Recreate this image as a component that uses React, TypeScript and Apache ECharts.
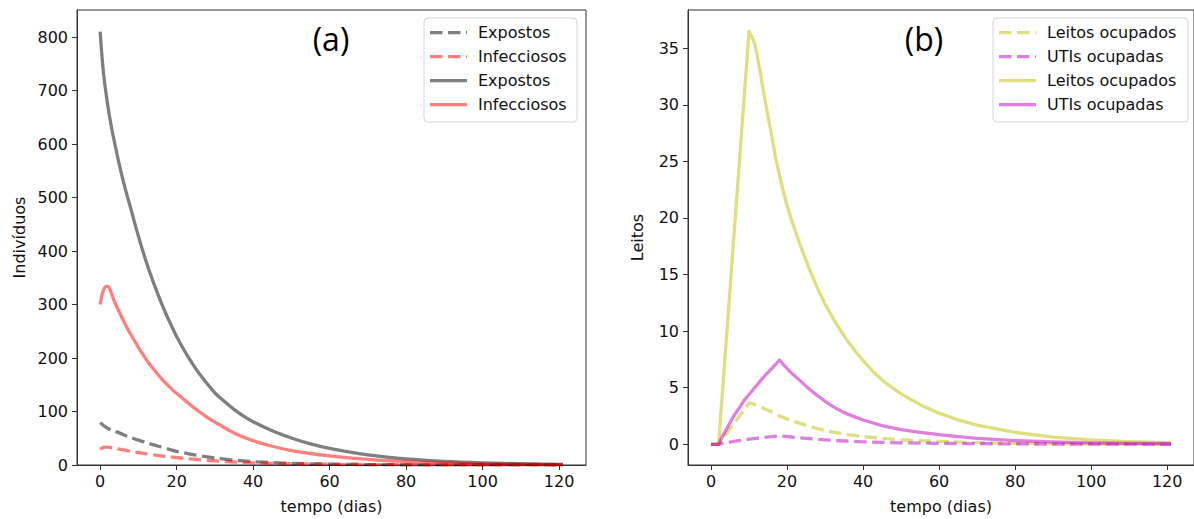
import React, { useEffect, useRef } from "react";
import * as echarts from "echarts";

// ---------- Panel (a): individuals ----------
const expSolidT = [0, 0.5, 1, 1.5, 2, 3, 4, 5, 6, 7, 8, 9, 10, 11, 12, 13, 14, 15, 16, 17, 18, 19, 20, 22, 24, 26, 28, 30, 32, 35, 38, 40, 45, 50, 55, 60, 65, 70, 75, 80, 90, 100, 110, 121];
const expSolidV = [810, 762, 725, 697, 672, 630, 595, 562, 532, 505, 480, 453, 428, 404, 381, 360, 340, 321, 303, 286, 270, 255, 240, 214, 191, 170, 152, 135, 122, 104, 89, 81, 64, 50.5, 39.5, 31, 24.5, 19, 14.8, 11.5, 6.8, 4, 2.3, 1.3];

const infSolidT = [0, 0.5, 1, 1.5, 2, 2.5, 3, 4, 5, 6, 7, 8, 9, 10, 11, 12, 13, 14, 15, 16, 17, 18, 19, 20, 22, 24, 26, 28, 30, 32, 35, 40, 45, 50, 55, 60, 65, 70, 75, 80, 90, 100, 110, 121];
const infSolidV = [300, 318, 329, 334, 334, 330, 320, 301, 286, 271, 257, 244, 232, 220, 209, 198, 188, 179, 170, 162, 154, 147, 140, 134, 122, 110, 99, 89, 80, 72, 60, 45.5, 35, 27, 21.5, 17, 13.3, 10.4, 8.1, 6.3, 3.7, 2.2, 1.3, 0.7];

const expDashT = [0, 0.5, 1, 2, 3, 4, 5, 6, 7, 8, 10, 12, 14, 16, 18, 20, 22, 25, 28, 30, 33, 35, 40, 45, 50, 60, 70, 80, 100, 121];
const expDashV = [79, 76, 73, 68.5, 65, 62.5, 60, 57, 54, 51.5, 46.5, 42, 37.5, 33.5, 29.5, 25.5, 22.5, 18.5, 15, 13, 10.5, 9, 6.3, 4.4, 3.1, 1.6, 0.85, 0.45, 0.13, 0.04];

const infDashT = [0, 0.5, 1, 1.5, 2, 2.5, 3, 4, 5, 6, 7, 8, 10, 12, 14, 16, 18, 20, 22, 25, 28, 30, 33, 35, 40, 45, 50, 60, 70, 80, 100, 121];
const infDashV = [29.5, 31.5, 32.8, 33.5, 33.5, 33, 32, 30.5, 29.5, 28.3, 27, 25.8, 23.3, 21, 19, 17.2, 15.4, 13.8, 12.4, 10.5, 8.8, 7.8, 6.5, 5.7, 4.1, 3.0, 2.3, 1.4, 0.85, 0.5, 0.18, 0.05];

// ---------- Panel (b): beds ----------
const leitosSolidT = [0, 2, 10, 11, 11.5, 12, 13, 14, 15, 16, 17, 18, 19, 20, 21, 22, 24, 26, 28, 30, 32, 34, 36, 38, 40, 43, 46, 50, 55, 60, 65, 70, 80, 90, 100, 110, 121];
const leitosSolidV = [0, 0, 36.5, 35.8, 35.4, 34.6, 32.8, 30.8, 29, 27.2, 25.3, 23.8, 22.4, 21.1, 20, 19, 17.1, 15.4, 13.8, 12.4, 11.2, 10.1, 9.1, 8.2, 7.4, 6.3, 5.4, 4.45, 3.5, 2.75, 2.15, 1.7, 1.05, 0.64, 0.39, 0.24, 0.14];

const utiSolidT = [0, 2, 3, 4, 5, 6, 7, 8, 9, 10, 11, 12, 13, 14, 15, 16, 17, 18, 19, 20, 21, 22, 24, 26, 28, 30, 32, 35, 38, 40, 45, 50, 55, 60, 65, 70, 80, 90, 100, 110, 121];
const utiSolidV = [0, 0, 0.7, 1.3, 1.9, 2.5, 3.0, 3.5, 4.0, 4.4, 4.8, 5.2, 5.6, 6.0, 6.35, 6.7, 7.05, 7.45, 7.05, 6.7, 6.35, 6.05, 5.45, 4.85, 4.3, 3.8, 3.35, 2.8, 2.4, 2.15, 1.65, 1.3, 1.05, 0.85, 0.68, 0.53, 0.33, 0.21, 0.13, 0.08, 0.05];

const leitosDashT = [0, 2, 10, 11, 12, 13, 14, 15, 16, 17, 18, 20, 22, 24, 26, 28, 30, 33, 36, 40, 45, 50, 60, 70, 80, 90, 100, 121];
const leitosDashV = [0, 0, 3.65, 3.57, 3.45, 3.3, 3.15, 3.0, 2.85, 2.68, 2.5, 2.25, 2.0, 1.78, 1.57, 1.38, 1.22, 1.02, 0.85, 0.68, 0.52, 0.4, 0.25, 0.15, 0.09, 0.055, 0.033, 0.012];

const utiDashT = [0, 2, 4, 6, 8, 10, 12, 14, 16, 18, 20, 22, 25, 28, 30, 35, 40, 45, 50, 60, 70, 80, 100, 121];
const utiDashV = [0, 0, 0.13, 0.25, 0.36, 0.45, 0.53, 0.61, 0.68, 0.75, 0.69, 0.62, 0.53, 0.44, 0.39, 0.29, 0.22, 0.17, 0.13, 0.085, 0.055, 0.033, 0.013, 0.005];

// ---------- ticks & labels ----------
const xTicks = [0, 20, 40, 60, 80, 100, 120];
const yTicksA = [0, 100, 200, 300, 400, 500, 600, 700, 800];
const yTicksB = [0, 5, 10, 15, 20, 25, 30, 35];
const legendA = ["Expostos", "Infecciosos", "Expostos", "Infecciosos"];
const legendB = ["Leitos ocupados", "UTIs ocupadas", "Leitos ocupados", "UTIs ocupadas"];

const FONT = "DejaVu Sans";
const C_GRAY = "#000000";
const C_RED = "#ff0000";
const C_YEL = "#bfbf00";
const C_MAG = "#bf00bf";
const LW = 3.3;
const DASH = [12.5, 5.5];

const zip = (t: number[], v: number[]) => t.map((x, i) => [x, v[i]]);

function lineSeries(name: string, t: number[], v: number[], color: string, dashed: boolean, idx: number, smooth: number) {
  return {
    type: "line",
    name,
    xAxisIndex: idx,
    yAxisIndex: idx,
    data: zip(t, v),
    symbol: "none",
    showSymbol: false,
    silent: true,
    smooth: smooth > 0 ? smooth : false,
    lineStyle: { color, width: LW, opacity: 0.5, type: dashed ? DASH : "solid", cap: "butt", join: "round" },
    itemStyle: { color },
  };
}

function xAxis(idx: number) {
  return {
    type: "value",
    gridIndex: idx,
    min: -6.05,
    max: 127.05,
    name: "tempo (dias)",
    nameLocation: "middle",
    nameGap: 33,
    nameTextStyle: { fontFamily: FONT, fontSize: 16, color: "#111" },
    axisLine: { show: true, onZero: false, lineStyle: { color: "#333", width: 1 } },
    axisTick: { show: true, length: 5, lineStyle: { color: "#333" }, customValues: xTicks },
    axisLabel: { fontFamily: FONT, fontSize: 16, color: "#111", margin: 8, customValues: xTicks },
    splitLine: { show: false },
  };
}

function yAxis(idx: number, min: number, max: number, ticks: number[], name: string, gap: number) {
  return {
    type: "value",
    gridIndex: idx,
    min,
    max,
    name,
    nameLocation: "middle",
    nameGap: gap,
    nameTextStyle: { fontFamily: FONT, fontSize: 16, color: "#111" },
    axisLine: { show: true, onZero: false, lineStyle: { color: "#333", width: 1 } },
    axisTick: { show: true, length: 5, lineStyle: { color: "#333" }, customValues: ticks },
    axisLabel: { fontFamily: FONT, fontSize: 16, color: "#111", margin: 9, customValues: ticks },
    splitLine: { show: false },
  };
}

function legendGraphic(x0: number, w: number, labels: string[], colors: string[]) {
  const els: any[] = [];
  els.push({
    type: "rect",
    shape: { x: x0, y: 18, width: w, height: 104, r: 4 },
    style: { fill: "rgba(255,255,255,0.85)", stroke: "#d6d6d6", lineWidth: 1 },
    z: 100,
  });
  labels.forEach((lab, i) => {
    const y = 32.7 + i * 24;
    els.push({
      type: "line",
      shape: { x1: x0 + 6, y1: y, x2: x0 + 43, y2: y },
      style: { stroke: colors[i], lineWidth: LW, opacity: 0.5, lineDash: i < 2 ? DASH : null, lineCap: "butt" },
      z: 101,
    });
    els.push({
      type: "text",
      x: x0 + 54,
      y,
      style: { text: lab, font: `16px "${FONT}"`, fill: "#111", verticalAlign: "middle", textVerticalAlign: "middle" },
      z: 101,
    });
  });
  return els;
}

export default function App() {
  const ref = useRef<HTMLDivElement>(null);
  useEffect(() => {
    if (!ref.current) return;
    const chart = echarts.init(ref.current, undefined, { renderer: "svg" });
    chart.setOption({
      animation: false,
      backgroundColor: "#ffffff",
      grid: [
        { left: 77, top: 10, width: 509, height: 455, show: true, borderColor: "#333", borderWidth: 1, backgroundColor: "transparent", containLabel: false },
        { left: 688, top: 10, width: 510, height: 455, show: true, borderColor: "#333", borderWidth: 1, backgroundColor: "transparent", containLabel: false },
      ],
      xAxis: [xAxis(0), xAxis(1)],
      yAxis: [
        yAxis(0, 0, 850.5, yTicksA, "Indivíduos", 50),
        yAxis(1, -1.83, 38.38, yTicksB, "Leitos", 43),
      ],
      series: [
        lineSeries("Expostos (tracejado)", expDashT, expDashV, C_GRAY, true, 0, 0.25),
        lineSeries("Infecciosos (tracejado)", infDashT, infDashV, C_RED, true, 0, 0.25),
        lineSeries("Expostos", expSolidT, expSolidV, C_GRAY, false, 0, 0.25),
        lineSeries("Infecciosos", infSolidT, infSolidV, C_RED, false, 0, 0.25),
        lineSeries("Leitos ocupados (tracejado)", leitosDashT, leitosDashV, C_YEL, true, 1, 0),
        lineSeries("UTIs ocupadas (tracejado)", utiDashT, utiDashV, C_MAG, true, 1, 0),
        lineSeries("Leitos ocupados", leitosSolidT, leitosSolidV, C_YEL, false, 1, 0),
        lineSeries("UTIs ocupadas", utiSolidT, utiSolidV, C_MAG, false, 1, 0),
      ],
      graphic: [
        ...legendGraphic(424, 153, legendA, [C_GRAY, C_RED, C_GRAY, C_RED]),
        ...legendGraphic(993, 195, legendB, [C_YEL, C_MAG, C_YEL, C_MAG]),
        {
          type: "text",
          x: 331,
          y: 38,
          style: { text: "(a)", font: '32px "Open Sans"', fill: "#000", align: "center", verticalAlign: "middle", textAlign: "center", textVerticalAlign: "middle" },
          z: 102,
        },
        {
          type: "text",
          x: 924,
          y: 38,
          style: { text: "(b)", font: '32px "Open Sans"', fill: "#000", align: "center", verticalAlign: "middle", textAlign: "center", textVerticalAlign: "middle" },
          z: 102,
        },
      ],
    });
    return () => chart.dispose();
  }, []);
  return (
    <div
      ref={ref}
      style={{ position: "fixed", left: 0, top: 0, width: 1194, height: 519, background: "#fff" }}
    />
  );
}
